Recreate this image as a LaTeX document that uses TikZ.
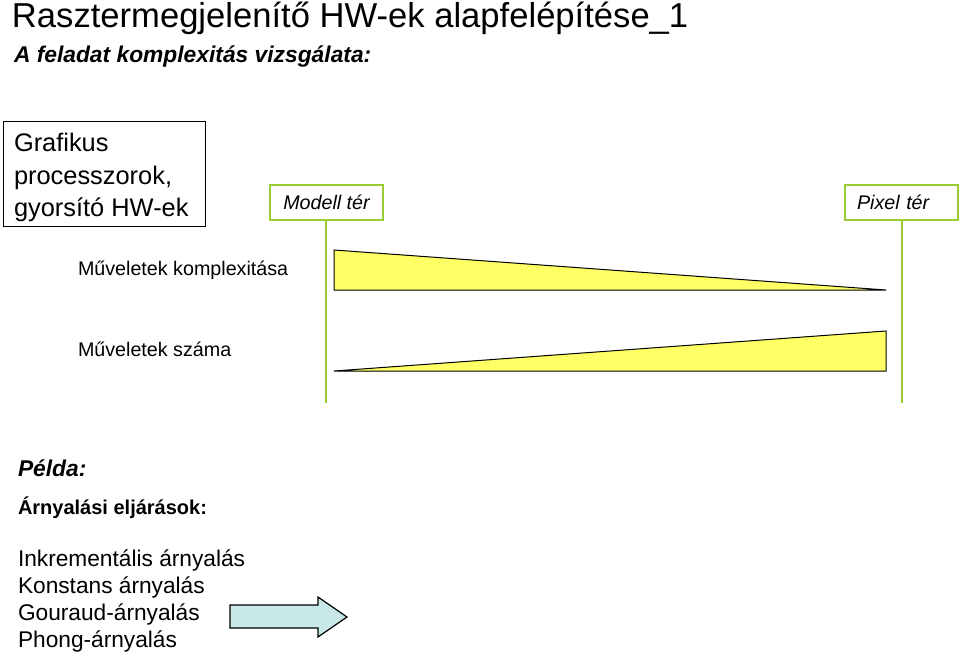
\documentclass[tikz,border=0pt]{standalone}
\usepackage{fontspec}
\setmainfont{Liberation Sans}
\usetikzlibrary{shapes.arrows}
\definecolor{boxgreen}{RGB}{153,204,51}
\definecolor{tri}{RGB}{255,255,102}
\definecolor{arrowfill}{RGB}{200,232,232}
\tikzset{
  txt/.style={anchor=base west, inner sep=0pt, outer sep=0pt},
  spacebox/.style={draw=boxgreen, line width=1.5pt, inner sep=0pt, minimum width=113pt, minimum height=35pt, font=\fontsize{19.7}{23}\selectfont\itshape},
  axis/.style={draw=boxgreen, line width=1.5pt},
  wedge/.style={fill=tri, draw=black, line width=1pt}
}
\begin{document}
\begin{tikzpicture}[x=1pt,y=-1pt]
\useasboundingbox (0,0) rectangle (960,655);
\node[txt, font=\fontsize{34.6}{40}\selectfont] (title) at (12,28) {Rasztermegjelenítő HW-ek alapfelépítése\_1};
\node[txt, font=\fontsize{22.8}{27}\selectfont\bfseries\itshape] (sub) at (14,63) {A feladat komplexitás vizsgálata:};
\node[draw=black, line width=1pt, minimum width=202pt, minimum height=105pt, anchor=north west, inner sep=0pt] (gbox) at (3,121) {};
\node[txt, font=\fontsize{25.4}{32}\selectfont] (g1) at (14,152) {Grafikus};
\node[txt, font=\fontsize{25.4}{32}\selectfont] (g2) at (14,184) {processzorok,};
\node[txt, font=\fontsize{25.4}{32}\selectfont] (g3) at (14,216) {gyorsító HW-ek};
\node[spacebox] (model) at (326.5,202.5) {Modell tér};
\node[spacebox, text width=89pt, inner xsep=12pt, align=left] (pixel) at (901.5,202.5) {Pixel tér};
\coordinate (mend) at (326,403);
\coordinate (pend) at (902,403);
\draw[axis] (model.south -| mend) -- (mend);
\draw[axis] (pixel.south -| pend) -- (pend);
\node[txt, font=\fontsize{19.7}{23}\selectfont] (kompl) at (78,275) {Műveletek komplexitása};
\node[txt, font=\fontsize{19.7}{23}\selectfont] (szam) at (78,356) {Műveletek száma};
\draw[wedge] (334,250) -- (334,290) -- (886,290) -- cycle;
\draw[wedge] (334,371) -- (886,331) -- (886,371) -- cycle;
\node[txt, font=\fontsize{22.8}{27}\selectfont\bfseries\itshape] (pelda) at (18,476) {Példa:};
\node[txt, font=\fontsize{20}{24}\selectfont\bfseries] (arny) at (18,514) {Árnyalási eljárások:};
\node[txt, font=\fontsize{22.7}{27}\selectfont] (l1) at (18,566) {Inkrementális árnyalás};
\node[txt, font=\fontsize{22.7}{27}\selectfont] (l2) at (18,593) {Konstans árnyalás};
\node[txt, font=\fontsize{22.7}{27}\selectfont] (l3) at (18,620) {Gouraud-árnyalás};
\node[txt, font=\fontsize{22.7}{27}\selectfont] (l4) at (18,647) {Phong-árnyalás};
\draw[fill=arrowfill, draw=black, line width=1.2pt] (230,605) -- (318,605) -- (318,597) -- (347,617) -- (318,637) -- (318,628) -- (230,628) -- cycle;
\end{tikzpicture}
\end{document}
